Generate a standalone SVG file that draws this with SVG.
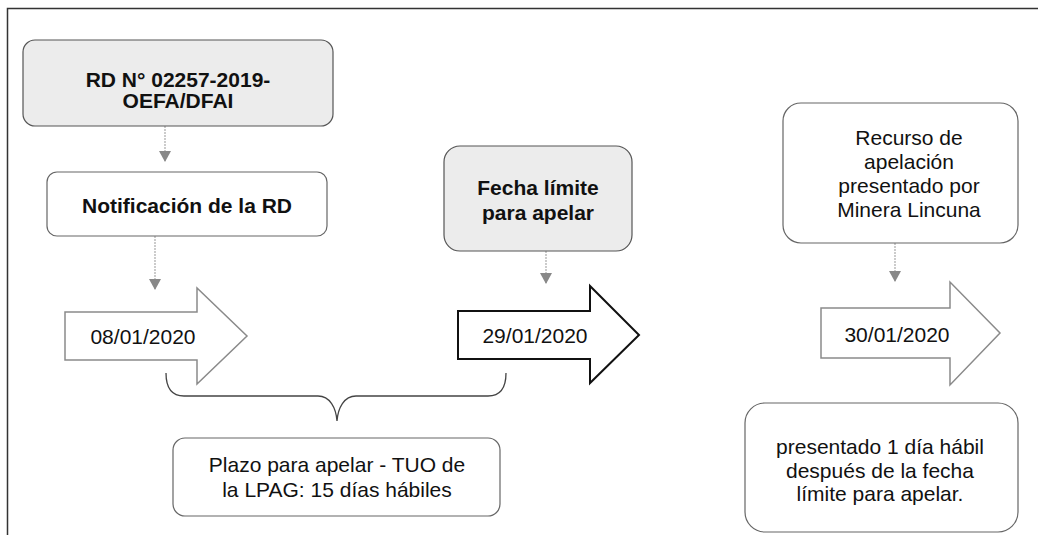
<svg xmlns="http://www.w3.org/2000/svg" width="1038" height="536" viewBox="0 0 1038 536">
<style>
  .t { font-family: "Liberation Sans", Arial, sans-serif; font-size: 21px; fill: #111; text-anchor: middle; }
  .b { font-weight: bold; }
  .box { fill: #fff; stroke: #666; stroke-width: 1.2; }
  .shade { fill: #ececec; stroke: #555; stroke-width: 1.2; }
  .arr { fill: #fff; stroke: #8a8a8a; stroke-width: 1.5; }
  .arrK { fill: #fff; stroke: #111; stroke-width: 2; }
  .con { stroke: #aaa; stroke-width: 1.2; fill: none; stroke-dasharray: 2 1; }
  .brace { stroke: #444; stroke-width: 1.3; fill: none; }
</style>
<defs>
  <marker id="tri" markerWidth="12" markerHeight="12" refX="11" refY="6" orient="auto" markerUnits="userSpaceOnUse" viewBox="0 0 12 12">
    <path d="M0,0 L11,6 L0,12 Z" fill="#888"/>
  </marker>
</defs>
<rect x="0" y="0" width="1038" height="536" fill="#fff"/>
<path d="M7.5,535 L7.5,8.5 L1038,8.5" fill="none" stroke="#333" stroke-width="1.5"/>

<g id="connectors">
  <line class="con" x1="165" y1="126" x2="165" y2="162" marker-end="url(#tri)"/>
  <line class="con" x1="155" y1="236" x2="155" y2="290" marker-end="url(#tri)"/>
  <line class="con" x1="546" y1="251" x2="546" y2="284" marker-end="url(#tri)"/>
  <line class="con" x1="895" y1="243" x2="895" y2="282" marker-end="url(#tri)"/>
  <path class="brace" d="M166,373 C166,388 172,396 184,396 L318,396 C330,396 336,408 337,421 C338,408 344,396 356,396 L488,396 C500,396 506,388 506,373"/>
</g>

<g id="rd">
  <rect class="shade" x="23" y="40" width="310" height="86" rx="12"/>
  <text class="t b" x="178" y="87">RD N° 02257-2019-</text>
  <text class="t b" x="178" y="108">OEFA/DFAI</text>
</g>

<g id="notificacion">
  <rect class="box" x="47" y="172" width="280" height="64" rx="10"/>
  <text class="t b" x="187" y="213">Notificación de la RD</text>
</g>

<g id="fecha1">
  <path class="arr" d="M65,312 L197,312 L197,288 L247,336 L197,384 L197,360 L65,360 Z"/>
  <text class="t" x="143" y="344">08/01/2020</text>
</g>

<g id="fecha-limite">
  <rect class="shade" x="444" y="146" width="188" height="105" rx="16"/>
  <text class="t b" x="538" y="195">Fecha límite</text>
  <text class="t b" x="538" y="220">para apelar</text>
</g>

<g id="fecha2">
  <path class="arrK" d="M458,311 L590,311 L590,286 L639,335 L590,383 L590,359 L458,359 Z"/>
  <text class="t" x="535" y="343">29/01/2020</text>
</g>

<g id="recurso">
  <rect class="box" x="783" y="103" width="235" height="140" rx="18"/>
  <text class="t" x="909" y="145">Recurso de</text>
  <text class="t" x="909" y="169">apelación</text>
  <text class="t" x="909" y="193">presentado por</text>
  <text class="t" x="909" y="217">Minera Lincuna</text>
</g>

<g id="fecha3">
  <path class="arr" d="M821,308 L950,308 L950,282 L1000,333 L950,385 L950,358 L821,358 Z"/>
  <text class="t" x="897" y="342">30/01/2020</text>
</g>

<g id="plazo">
  <rect class="box" x="173" y="438" width="327" height="78" rx="12"/>
  <text class="t" x="337" y="472">Plazo para apelar - TUO de</text>
  <text class="t" x="337" y="497">la LPAG: 15 días hábiles</text>
</g>

<g id="nota">
  <rect class="box" x="745" y="403" width="273" height="129" rx="20"/>
  <text class="t" x="880" y="454">presentado 1 día hábil</text>
  <text class="t" x="880" y="478">después de la fecha</text>
  <text class="t" x="880" y="501">límite para apelar.</text>
</g>
</svg>
